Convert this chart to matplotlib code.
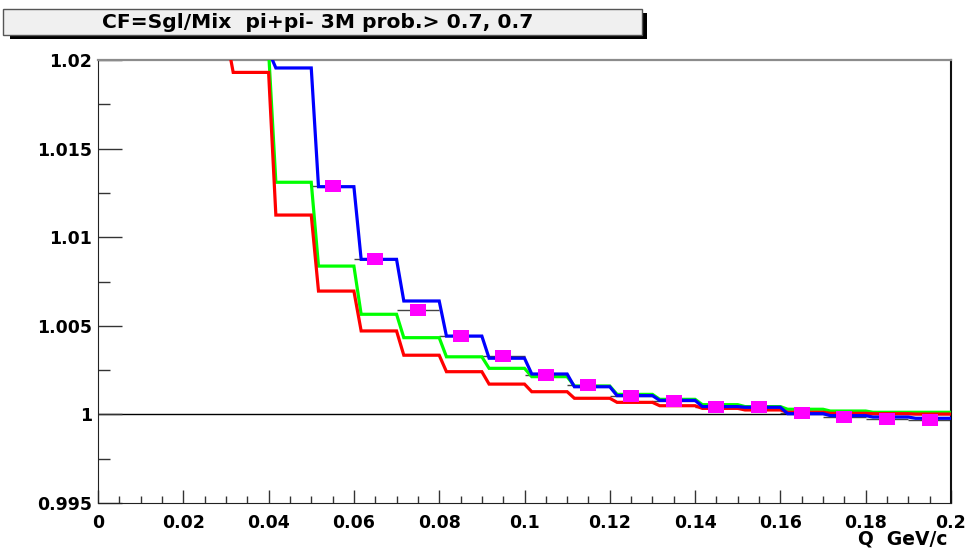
import numpy as np
import matplotlib
matplotlib.use("Agg")
import matplotlib.pyplot as plt
from matplotlib.patches import Rectangle
from matplotlib.path import Path

# Histogram bins (Q in GeV/c), starting at 0.02
bin_edges = np.round(np.arange(0.02, 0.2001, 0.01), 3)

# Correlation function per bin, three fit/selection variants
cf_red = [1.0215, 1.0193, 1.01125, 1.00696, 1.00471, 1.00334, 1.00241, 1.00171, 1.00128,
          1.00091, 1.00068, 1.00049, 1.00034, 1.00025, 1.00012, 1.00006, 1.00004, 1.00002]
cf_green = [1.0250, 1.0205, 1.0131, 1.00837, 1.00565, 1.00433, 1.00325, 1.00260, 1.00213,
            1.00160, 1.00113, 1.00085, 1.00055, 1.00044, 1.00029, 1.00019, 1.00012, 1.00012]
cf_blue = [1.0250, 1.0205, 1.01955, 1.01285, 1.00875, 1.00640, 1.00442, 1.00317, 1.00228,
           1.00156, 1.00106, 1.00079, 1.00044, 1.00040, 1.00004, 0.99993, 0.99985, 0.99978]

# Measured points at bin centres
q_points = [0.055, 0.065, 0.075, 0.085, 0.095, 0.105, 0.115, 0.125, 0.135, 0.145,
            0.155, 0.165, 0.175, 0.185, 0.195]
cf_points = [1.01291, 1.00875, 1.00587, 1.00442, 1.00330, 1.00224, 1.00164, 1.00106,
             1.00078, 1.00044, 1.00044, 1.00008, 0.99984, 0.99972, 0.99970]

x_ticks = [0, 0.02, 0.04, 0.06, 0.08, 0.1, 0.12, 0.14, 0.16, 0.18, 0.2]
x_ticklabels = ["0", "0.02", "0.04", "0.06", "0.08", "0.1", "0.12", "0.14", "0.16", "0.18", "0.2"]
y_ticks = [0.995, 1.0, 1.005, 1.01, 1.015, 1.02]
y_ticklabels = ["0.995", "1", "1.005", "1.01", "1.015", "1.02"]

title_text = "CF=Sgl/Mix  pi+pi- 3M prob.> 0.7, 0.7"
x_label = "Q  GeV/c"

W, H = 967, 550
FONT = "DejaVu Sans"


def step_path(edges, values, lean=0.0017):
    """Staircase outline with a short slanted riser at every bin edge."""
    xs, ys = [], []
    for i, v in enumerate(values):
        lo, hi = edges[i], edges[i + 1]
        xs += [lo + (lean if i > 0 else 0.0), hi]
        ys += [v, v]
    return xs, ys


fig = plt.figure(figsize=(W / 100, H / 100), dpi=100)
fig.patch.set_facecolor("white")

ax = fig.add_axes([98 / W, 1 - 503 / H, (951 - 98) / W, (503 - 60) / H])
ax.set_xlim(0, 0.2)
ax.set_ylim(0.995, 1.02)

ax.axhline(1.0, color="black", lw=1.0, zorder=1)

ax.errorbar(q_points, cf_points, xerr=0.005, fmt="none", ecolor="#444444",
            elinewidth=1.0, capsize=0, zorder=2)

for vals, col in ((cf_green, "#00ff00"), (cf_red, "#ff0000"), (cf_blue, "#0000ff")):
    xs, ys = step_path(bin_edges, vals)
    ax.plot(xs, ys, color=col, lw=2.3, solid_joinstyle="miter", zorder=3)

rect_marker = Path([(-1, -0.8), (1, -0.8), (1, 0.8), (-1, 0.8), (-1, -0.8)],
                   [Path.MOVETO, Path.LINETO, Path.LINETO, Path.LINETO, Path.CLOSEPOLY])
ax.plot(q_points, cf_points, ls="none", marker=rect_marker, ms=11.5,
        mfc="#ff00ff", mec="#ff00ff", mew=0, zorder=5)

# Axes frame
ax.spines["left"].set_color("#222222")
ax.spines["bottom"].set_color("#222222")
ax.spines["right"].set_color("#111111")
ax.spines["right"].set_linewidth(1.5)
ax.spines["top"].set_color("#8c8c8c")
ax.spines["top"].set_linewidth(1.6)

ax.set_xticks(x_ticks)
ax.set_xticklabels(x_ticklabels)
ax.set_yticks(y_ticks)
ax.set_yticklabels(y_ticklabels)
ax.set_xticks(np.arange(0, 0.2001, 0.005), minor=True)
ax.set_yticks(np.arange(0.995, 1.0201, 0.0025), minor=True)

ax.tick_params(axis="x", which="major", direction="in", length=9.5, width=1,
               color="#333333", pad=8, top=False)
ax.tick_params(axis="x", which="minor", direction="in", length=5, width=1,
               color="#333333", top=False)
ax.tick_params(axis="y", which="major", direction="in", length=17, width=1,
               color="#333333", pad=4.5, right=False)
ax.tick_params(axis="y", which="minor", direction="in", length=8.5, width=1,
               color="#333333", right=False)
for lab in ax.get_xticklabels() + ax.get_yticklabels():
    lab.set_fontfamily(FONT)
    lab.set_fontweight("bold")
    lab.set_fontsize(12.5)
    lab.set_color("black")

fig.text(948 / W, 1 - 539 / H, x_label, ha="right", va="center",
         fontfamily=FONT, fontweight="bold", fontsize=13.5)

# Title box with drop shadow
fig.patches.append(Rectangle((10 / W, 1 - 39 / H), (647 - 10) / W, (39 - 13) / H,
                             transform=fig.transFigure, facecolor="black",
                             edgecolor="none", zorder=0))
fig.patches.append(Rectangle((3 / W, 1 - 35 / H), (642 - 3) / W, (35 - 9) / H,
                             transform=fig.transFigure, facecolor="#f0f0f0",
                             edgecolor="#555555", lw=1.0, zorder=1))
fig.text(318 / W, 1 - 22 / H, title_text, ha="center", va="center",
         fontfamily=FONT, fontweight="bold", fontsize=14.6, zorder=2)

fig.savefig("out.png", dpi=100)
